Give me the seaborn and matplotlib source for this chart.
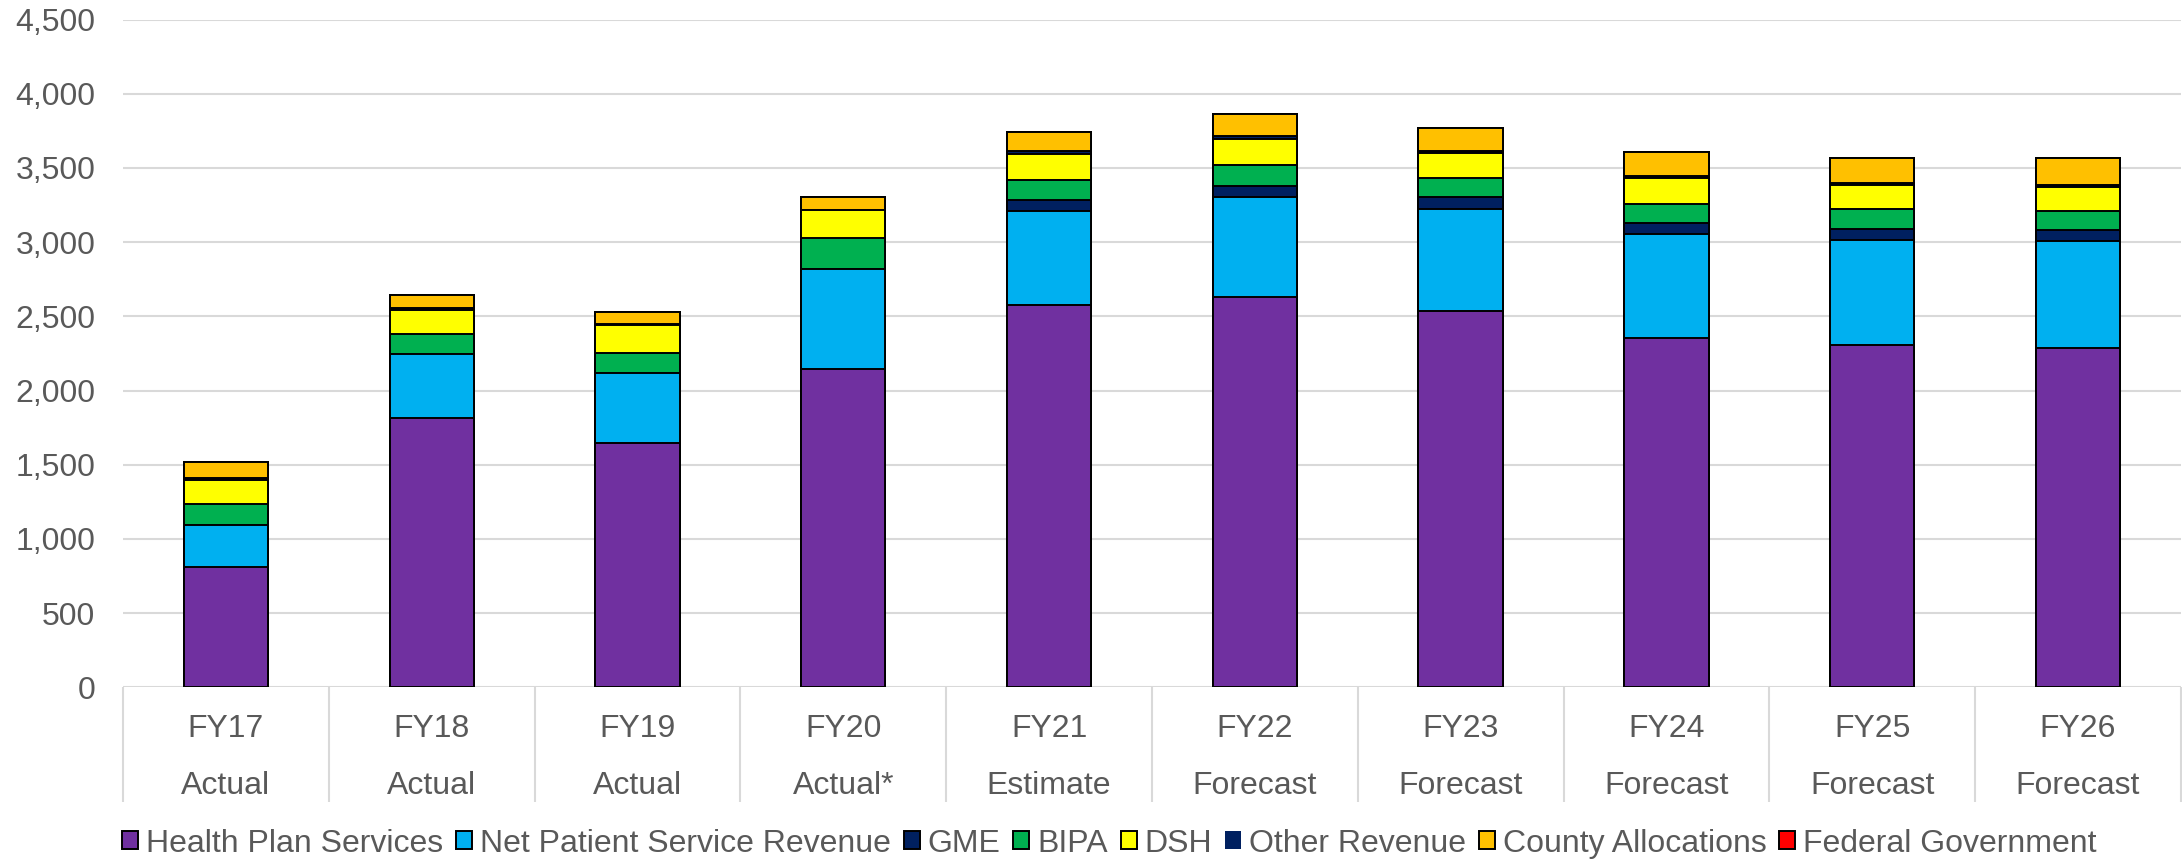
import numpy as np
import pandas as pd
import matplotlib
matplotlib.use('Agg')
import matplotlib.pyplot as plt
from matplotlib.patches import Patch
from matplotlib.ticker import FuncFormatter, MultipleLocator
import seaborn as sns

# categories
years = ['FY17', 'FY18', 'FY19', 'FY20', 'FY21', 'FY22', 'FY23', 'FY24', 'FY25', 'FY26']
status = ['Actual', 'Actual', 'Actual', 'Actual*', 'Estimate',
          'Forecast', 'Forecast', 'Forecast', 'Forecast', 'Forecast']

# revenue by source
health_plan = [809, 1812, 1646, 2146, 2573, 2629, 2533, 2353, 2304, 2284]
net_patient = [286, 436, 472, 672, 636, 676, 689, 703, 709, 723]
gme = [0, 0, 0, 0, 74, 74, 79, 74, 74, 74]
bipa = [142, 135, 135, 211, 135, 140, 130, 130, 133, 130]
dsh = [161, 162, 186, 186, 179, 179, 170, 171, 164, 162]
other_rev = [12, 10, 10, 0, 16, 16, 14, 14, 13, 13]
county = [110, 89, 78, 90, 128, 146, 153, 161, 173, 184]
federal = [0, 0, 0, 0, 0, 0, 0, 0, 0, 0]

series_names = ['Health Plan Services', 'Net Patient Service Revenue', 'GME', 'BIPA',
                'DSH', 'Other Revenue', 'County Allocations', 'Federal Government']
series_values = [health_plan, net_patient, gme, bipa, dsh, other_rev, county, federal]
series_colors = ['#7030A0', '#00B0F0', '#002060', '#00B050',
                 '#FFFF00', '#002060', '#FFC000', '#FF0000']

df = pd.DataFrame(dict(zip(series_names, series_values)), index=years)
cum = df.cumsum(axis=1)

sns.set_style('white')
plt.rcParams['font.family'] = ['Liberation Sans', 'DejaVu Sans']
grey = '#595959'
fs = 23

fig = plt.figure(figsize=(21.82, 8.6), dpi=100)
ax = fig.add_axes([0.0564, 0.2008, 0.9431, 0.7765])

# stacked bars: draw cumulative totals from the top layer down
for name, col in reversed(list(zip(series_names, series_colors))):
    sns.barplot(x=years, y=cum[name].values, color=col, saturation=1, width=0.41,
                edgecolor='black', linewidth=1.4, errorbar=None, ax=ax, zorder=3)

ax.set_ylim(0, 4500)
ax.set_xlim(-0.5, len(years) - 0.5)
ax.yaxis.set_major_locator(MultipleLocator(500))
ax.yaxis.set_major_formatter(FuncFormatter(lambda v, p: f'{v:,.0f}'))
ax.grid(axis='y', color='#D9D9D9', linewidth=1.5)
ax.set_axisbelow(True)
sns.despine(ax=ax, left=True, bottom=True)
ax.tick_params(axis='y', length=0, pad=20, labelsize=fs, labelcolor=grey)
ax.set_xticks([])
ax.set_xlabel('')
ax.set_ylabel('')

# two-level category axis
trans = ax.get_xaxis_transform()
ax.vlines(np.arange(-0.5, len(years)), -0.171, 0, transform=trans,
          color='#D9D9D9', linewidth=1.5, clip_on=False)
for i, (yr, st) in enumerate(zip(years, status)):
    ax.text(i, -0.062, yr, transform=trans, ha='center', va='center',
            fontsize=fs, color=grey)
    ax.text(i, -0.148, st, transform=trans, ha='center', va='center',
            fontsize=fs, color=grey)

handles = []
for name, col in zip(series_names, series_colors):
    ec = 'none' if name == 'Other Revenue' else 'black'
    handles.append(Patch(facecolor=col, edgecolor=ec, linewidth=1.4, label=name))
fig.legend(handles=handles, loc='center', bbox_to_anchor=(0.5085, 0.019), ncol=8,
           frameon=False, fontsize=fs, labelcolor=grey, handlelength=0.5,
           handleheight=0.5, handletextpad=0.25, columnspacing=0.4,
           borderpad=0, borderaxespad=0)

fig.savefig('out.png', dpi=100)
